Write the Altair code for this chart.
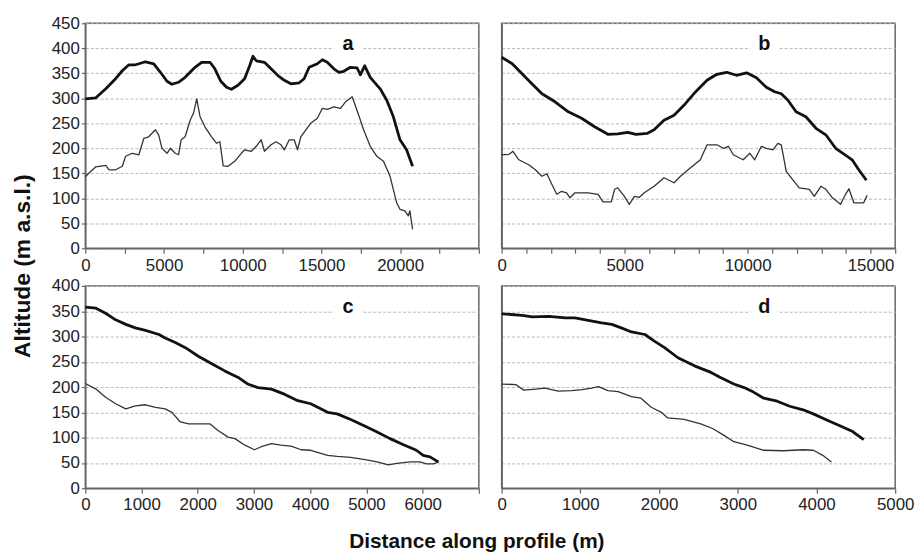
import altair as alt
import pandas as pd

FONT = "Liberation Sans, Arial, sans-serif"

# ---------------- data ----------------
A_THICK_X = [0, 670, 1300, 1830, 2350, 2770, 3190, 3820, 4350, 4770, 5190, 5500, 5920, 6340, 6970, 7390, 7920,
             8230, 8610, 8970, 9280, 9700, 10120, 10440, 10650, 10860, 11380, 11800, 12220, 12640, 13060, 13590,
             13900, 14220, 14740, 15060, 15370, 15790, 16110, 16420, 16840, 17260, 17470, 17750, 18100, 18730,
             19150, 19570, 19990, 20410, 20790]
A_THICK_Y = [299, 301, 319, 336, 355, 367, 367, 373, 369, 352, 334, 328, 332, 342, 362, 372, 372, 359, 334, 322,
             318, 326, 339, 365, 384, 375, 372, 359, 346, 336, 329, 331, 339, 362, 369, 377, 372, 359, 352, 354,
             362, 361, 347, 365, 342, 319, 296, 263, 217, 197, 164]
A_THIN_X = [0, 250, 670, 1300, 1510, 1930, 2350, 2560, 2980, 3400, 3720, 4030, 4450, 4660, 4870, 5190, 5400,
            5710, 5920, 6090, 6340, 6660, 6870, 7080, 7290, 7600, 8020, 8340, 8550, 8760, 9070, 9490, 9910, 10120,
            10540, 10860, 11170, 11380, 11800, 12120, 12430, 12640, 12960, 13270, 13480, 13690, 14010, 14320,
            14740, 15060, 15370, 15790, 16210, 16530, 16950, 17260, 17680, 18100, 18520, 18940, 19360, 19780,
            19990, 20300, 20520, 20620, 20790]
A_THIN_Y = [143, 151, 163, 166, 157, 157, 164, 184, 190, 187, 220, 223, 237, 227, 200, 190, 200, 190, 187, 217,
            223, 256, 270, 299, 263, 243, 223, 210, 213, 165, 164, 174, 190, 197, 194, 204, 217, 194, 207, 213,
            207, 197, 217, 217, 197, 223, 237, 250, 260, 280, 278, 283, 280, 293, 303, 276, 237, 204, 184, 174,
            144, 91, 78, 75, 65, 75, 38]

B_THICK_X = [0, 430, 830, 1230, 1640, 2170, 2710, 3250, 3780, 4320, 4720, 5130, 5460, 5930, 6200, 6600, 7010,
             7410, 7810, 8350, 8750, 9150, 9550, 9960, 10360, 10760, 11100, 11370, 11640, 11970, 12370, 12780,
             13180, 13580, 14050, 14250, 14520, 14830]
B_THICK_Y = [382, 369, 349, 329, 309, 293, 273, 260, 243, 228, 229, 232, 228, 230, 237, 256, 266, 286, 309, 336,
             348, 352, 346, 351, 341, 322, 313, 309, 296, 273, 263, 240, 227, 200, 184, 177, 157, 136]
B_THIN_X = [0, 300, 460, 700, 1100, 1370, 1640, 1840, 2040, 2240, 2440, 2640, 2780, 2980, 3520, 3920, 4120, 4460,
            4590, 4720, 4990, 5190, 5400, 5600, 5800, 6200, 6600, 7010, 7270, 7680, 8080, 8350, 8750, 9020, 9220,
            9420, 9820, 10090, 10290, 10560, 10760, 11030, 11230, 11370, 11570, 11840, 12100, 12510, 12710,
            12980, 13180, 13450, 13780, 13980, 14120, 14320, 14520, 14720, 14860]
B_THIN_Y = [187, 188, 194, 177, 167, 157, 144, 149, 128, 108, 114, 111, 101, 111, 111, 108, 93, 93, 118, 121,
            104, 88, 104, 102, 111, 124, 141, 131, 144, 161, 177, 207, 207, 200, 204, 187, 177, 190, 177, 204,
            200, 197, 210, 207, 154, 137, 121, 118, 104, 124, 118, 101, 88, 108, 119, 91, 91, 91, 106]

C_THICK_X = [0, 190, 360, 540, 720, 890, 1070, 1310, 1420, 1600, 1780, 2010, 2250, 2480, 2720, 2890, 3070, 3310,
             3540, 3780, 4010, 4310, 4480, 4720, 4950, 5190, 5420, 5660, 5890, 6010, 6130, 6280]
C_THICK_Y = [358, 356, 346, 333, 324, 317, 312, 304, 297, 288, 278, 261, 246, 232, 219, 206, 199, 196, 186, 173,
             167, 150, 147, 136, 124, 111, 98, 86, 75, 65, 62, 52]
C_THIN_X = [0, 190, 360, 540, 720, 890, 1070, 1250, 1420, 1540, 1690, 1840, 2010, 2220, 2360, 2540, 2660, 2840,
            3010, 3130, 3310, 3480, 3660, 3840, 4010, 4310, 4480, 4720, 4950, 5190, 5390, 5540, 5780, 5950, 6070,
            6190, 6290]
C_THIN_Y = [207, 196, 180, 167, 157, 163, 165, 160, 157, 150, 131, 127, 127, 127, 114, 101, 98, 85, 76, 82,
            88, 85, 83, 76, 75, 65, 63, 61, 57, 52, 46, 49, 52, 52, 48, 48, 52]

D_THICK_X = [0, 260, 390, 600, 810, 930, 1100, 1270, 1400, 1520, 1650, 1820, 1940, 2070, 2240, 2450, 2660, 2780,
             2950, 3080, 3200, 3330, 3500, 3660, 3830, 3960, 4130, 4290, 4460, 4600]
D_THICK_Y = [345, 342, 339, 340, 337, 337, 332, 327, 324, 317, 309, 304, 291, 278, 258, 242, 229, 219, 206, 199,
             190, 178, 172, 162, 155, 147, 135, 124, 112, 96]
D_THIN_X = [0, 180, 280, 430, 550, 720, 890, 1020, 1140, 1230, 1350, 1480, 1650, 1770, 1900, 2030, 2110, 2320,
            2530, 2680, 2820, 2950, 3120, 3330, 3580, 3830, 3960, 4080, 4190]
D_THIN_Y = [206, 205, 194, 196, 198, 192, 193, 195, 198, 201, 193, 191, 181, 178, 160, 150, 139, 136, 127, 118,
            105, 92, 85, 75, 74, 76, 75, 65, 52]

PANEL_LABELS = ["a", "b", "c", "d"]
Y_TITLE = "Altitude (m a.s.l.)"
X_TITLE = "Distance along profile (m)"

SERIES = ["thick", "thin"]


def make_df(tx, ty, nx, ny):
    rows = [{"d": x, "h": y, "s": "thick"} for x, y in zip(tx, ty)]
    rows += [{"d": x, "h": y, "s": "thin"} for x, y in zip(nx, ny)]
    return pd.DataFrame(rows)


def panel(df, label, xmax, xstep, label_expr, ymax, height, show_y, extra=None):
    xaxis = alt.Axis(values=list(range(0, xmax + 1, xstep)), labelExpr=label_expr, format="d",
                     grid=False, title=None, labelFlush=False, labelOverlap=False,
                     tickSize=5, labelPadding=4)
    yaxis = alt.Axis(values=list(range(0, ymax + 1, 50)), grid=True, title=None,
                     labels=show_y, ticks=show_y, tickSize=4, labelPadding=2,
                     gridColor="#b8b8b8", gridDash=[3, 2], gridWidth=1)
    lines = alt.Chart(df).mark_line(strokeJoin="round").encode(
        x=alt.X("d:Q", scale=alt.Scale(domain=[0, xmax], nice=False, zero=True), axis=xaxis),
        y=alt.Y("h:Q", scale=alt.Scale(domain=[0, ymax], nice=False), axis=yaxis),
        color=alt.Color("s:N", scale=alt.Scale(domain=SERIES, range=["#111111", "#333333"]), legend=None),
        strokeWidth=alt.StrokeWidth("s:N", scale=alt.Scale(domain=SERIES, range=[2.8, 1.3]), legend=None),
    )
    lab = pd.DataFrame({"t": [label]})
    bg = alt.Chart(lab).mark_rect(color="white").encode(
        x=alt.value(251), x2=alt.value(279), y=alt.value(10), y2=alt.value(31))
    txt = alt.Chart(lab).mark_text(font=FONT, fontSize=20, fontWeight="bold", align="center",
                                   baseline="alphabetic", color="#111").encode(
        x=alt.value(265), y=alt.value(27), text="t:N")
    layers = [lines, bg, txt]
    if extra:
        layers += extra
    return alt.layer(*layers).properties(width=397, height=height)


titles = pd.DataFrame({"t": [Y_TITLE], "u": [X_TITLE]})
ytitle = alt.Chart(titles).mark_text(font=FONT, fontSize=23, fontWeight="bold", angle=270, align="center",
                                     baseline="middle", color="#111").encode(
    x=alt.value(-63), y=alt.value(-20), text="t:N")
xtitle = alt.Chart(titles).mark_text(font=FONT, fontSize=21, fontWeight="bold", align="center",
                                     baseline="alphabetic", color="#111").encode(
    x=alt.value(395), y=alt.value(264), text="u:N")

pa = panel(make_df(A_THICK_X, A_THICK_Y, A_THIN_X, A_THIN_Y), PANEL_LABELS[0], 25000, 2500,
           "datum.value % 5000 === 0 && datum.value < 25000 ? datum.label : ''", 450, 227, True)
pb = panel(make_df(B_THICK_X, B_THICK_Y, B_THIN_X, B_THIN_Y), PANEL_LABELS[1], 16000, 1000,
           "datum.value % 5000 === 0 ? datum.label : ''", 450, 227, False)
pc = panel(make_df(C_THICK_X, C_THICK_Y, C_THIN_X, C_THIN_Y), PANEL_LABELS[2], 7000, 1000,
           "datum.value < 7000 ? datum.label : ''", 400, 204, True, extra=[ytitle, xtitle])
pd_ = panel(make_df(D_THICK_X, D_THICK_Y, D_THIN_X, D_THIN_Y), PANEL_LABELS[3], 5000, 1000,
            "datum.label", 400, 204, False)

chart = alt.concat(pa, pb, pc, pd_, columns=2, spacing={"row": 38, "column": 23}, bounds="flush").properties(
    padding={"left": 3, "top": 3, "right": 0, "bottom": 0}
).configure_view(
    stroke="#666666", strokeWidth=1.5
).configure_axis(
    domainColor="#666666", domainWidth=1.5, tickColor="#666666", tickWidth=1.2,
    labelFont=FONT, labelFontSize=17, labelColor="#222222"
)

chart.save("out.html", embed_options={"renderer": "svg", "actions": False})
